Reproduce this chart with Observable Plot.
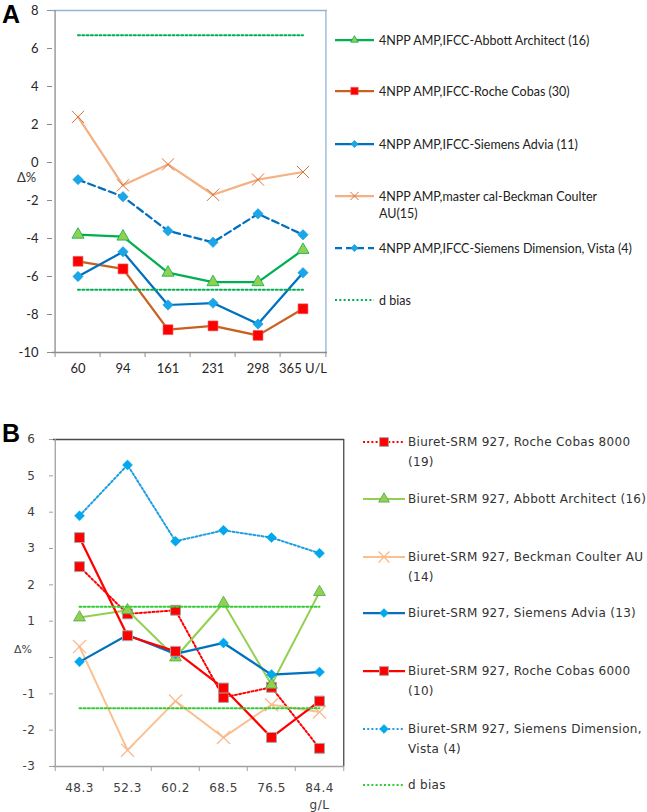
<!DOCTYPE html>
<html>
<head>
<meta charset="utf-8">
<script src="https://cdn.jsdelivr.net/npm/d3@7"></script>
<script src="https://cdn.jsdelivr.net/npm/@observablehq/plot@0.6"></script>
<style>
  html, body { margin: 0; padding: 0; background: #fff; }
  #wrap { position: relative; width: 647px; height: 812px; overflow: hidden; background: #fff; }
  .plabel { position: absolute; font-family: "Liberation Sans", Arial, sans-serif; font-weight: bold; font-size: 25px; line-height: 28px; color: #000; }
  .ylab { position: absolute; line-height: 1; color: #333; }
  .legA { position: absolute; font-family: Lato, "Open Sans", sans-serif; font-size: 12.5px; line-height: 17px; color: #222; white-space: nowrap; }
  .legB { position: absolute; font-family: "DejaVu Sans", Verdana, sans-serif; font-size: 12px; line-height: 20px; color: #333; white-space: nowrap; letter-spacing: 0.3px; }
  .legA svg, .legB svg { position: absolute; overflow: visible; }
</style>
</head>
<body>
<div id="wrap"></div>
<script>
// ---------------- DATA ----------------
// Panel A: alkaline phosphatase (U/L)
const catsA = ["60", "94", "161", "231", "298", "365"];
const abbottA    = [-3.8, -3.9, -5.8, -6.3, -6.3, -4.6];
const rocheA     = [-5.2, -5.6, -8.8, -8.6, -9.1, -7.7];
const adviaA     = [-6.0, -4.7, -7.5, -7.4, -8.5, -5.8];
const beckmanA   = [2.4, -1.2, -0.1, -1.7, -0.9, -0.5];
const dimensionA = [-0.9, -1.8, -3.6, -4.2, -2.7, -3.8];
const dBiasA = [6.7, -6.7];
const yTicksA = [-10, -8, -6, -4, -2, 0, 2, 4, 6, 8];
const namesA = [
  "4NPP AMP,IFCC-Abbott Architect (16)",
  "4NPP AMP,IFCC-Roche Cobas (30)",
  "4NPP AMP,IFCC-Siemens Advia (11)",
  "4NPP AMP,master cal-Beckman Coulter\nAU(15)",
  "4NPP AMP,IFCC-Siemens Dimension, Vista (4)",
  "d bias"
];
const unitA = "U/L";

// Panel B: total protein (g/L)
const catsB = ["48.3", "52.3", "60.2", "68.5", "76.5", "84.4"];
const roche8000B = [2.5, 1.2, 1.3, -1.1, -0.82, -2.5];
const abbottB    = [1.1, 1.3, 0.0, 1.5, -0.75, 1.8];
const beckmanB   = [0.3, -2.55, -1.2, -2.2, -1.3, -1.5];
const adviaB     = [-0.12, 0.62, 0.1, 0.4, -0.47, -0.4];
const roche6000B = [3.3, 0.6, 0.17, -0.84, -2.2, -1.2];
const dimensionB = [3.9, 5.3, 3.2, 3.5, 3.3, 2.87];
const dBiasB = [1.4, -1.4];
const yTicksB = [-3, -2, -1, 0, 1, 2, 3, 4, 5, 6];
const namesB = [
  "Biuret-SRM 927, Roche Cobas 8000\n(19)",
  "Biuret-SRM 927, Abbott Architect (16)",
  "Biuret-SRM 927, Beckman Coulter AU\n(14)",
  "Biuret-SRM 927, Siemens Advia (13)",
  "Biuret-SRM 927, Roche Cobas 6000\n(10)",
  "Biuret-SRM 927, Siemens Dimension,\nVista (4)",
  "d bias"
];
const unitB = "g/L";
const yTitle = "Δ%";

// ---------------- STYLES ----------------
const stylesA = [
  {line: "#00B050", w: 2.25, dash: null, sym: "triangle", r: 4.5, fill: "#92D050", stroke: "#00B050", sw: 0.8, lr: 2.8},
  {line: "#C8611F", w: 2.25, dash: null, sym: "square", r: 5.6, fill: "#FF0000", stroke: "#F06060", sw: 0.6, lr: 4.2},
  {line: "#0070C0", w: 2.25, dash: null, sym: "diamond2", r: 4.7, fill: "#1AA7E8", stroke: "#1496D6", sw: 0.5, lr: 3.3},
  {line: "#F4B183", w: 2.25, dash: null, sym: "times", r: 5.6, fill: "none", stroke: "#D9733A", sw: 1, lr: 3.8},
  {line: "#0070C0", w: 2.25, dash: "7,4", sym: "diamond2", r: 4.7, fill: "#1AA7E8", stroke: "#1496D6", sw: 0.5, lr: 3.3},
  {line: "#00B050", w: 2, dash: "2,2.3", sym: null}
];
const legTopA = [40, 91, 144, 196, 248, 300];

const stylesB = [
  {line: "#FF0000", w: 2, dash: "2,2.2", sym: "square", r: 5.6, fill: "#FF0000", stroke: "#A8A8A8", sw: 1, lr: 5},
  {line: "#92D050", w: 2, dash: null, sym: "triangle", r: 4.4, fill: "#92D050", stroke: "#4FA84F", sw: 0.8, lr: 4},
  {line: "#FAC090", w: 2, dash: null, sym: "times", r: 6, fill: "none", stroke: "#FAB98A", sw: 1.3, lr: 5},
  {line: "#0070C0", w: 2.25, dash: null, sym: "diamond2", r: 4.5, fill: "#00A8EE", stroke: "#00A0E6", sw: 0.5, lr: 4},
  {line: "#FF0000", w: 2.25, dash: null, sym: "square", r: 5.6, fill: "#FF0000", stroke: "#A8A8A8", sw: 1, lr: 5},
  {line: "#1E9EE2", w: 2, dash: "2,2.2", sym: "diamond2", r: 4.5, fill: "#00A8EE", stroke: "#00A0E6", sw: 0.5, lr: 4},
  {line: "#33CC33", w: 2, dash: "2,2.2", sym: null}
];
const legTopB = [441.7, 499, 557, 613, 670.7, 729, 785];

// ---------------- HELPERS ----------------
const wrap = document.getElementById("wrap");
const pts = (cats, vals) => cats.map((c, i) => ({cat: c, v: vals[i]}));
const symMap = {triangle: d3.symbolTriangle, square: d3.symbolSquare, diamond2: d3.symbolDiamond2, times: d3.symbolTimes};

function seriesMarks(cats, vals, s) {
  const data = pts(cats, vals);
  const marks = [Plot.line(data, {x: "cat", y: "v", stroke: s.line, strokeWidth: s.w, strokeDasharray: s.dash || undefined, strokeLinejoin: "round"})];
  if (s.sym) {
    marks.push(Plot.dot(data, {x: "cat", y: "v", symbol: s.sym, r: s.r, fill: s.fill, stroke: s.stroke, strokeWidth: s.sw}));
  }
  return marks;
}

function panel({cats, series, styles, dBias, yTicks, yDomain, width, height, margins, frameColor, axisColor, font, fontSize, tickFmt, tickLen, yTickSize, yTickPad, xTickPad, lineHeight, labelColor, letterSpacing}) {
  const [mt, mr, mb, ml] = margins;
  const bw = (width - ml - mr) / cats.length;
  const last = cats[cats.length - 1];
  const tickDy = (yDomain[1] - yDomain[0]) * tickLen / (height - mt - mb);
  const marks = [
    Plot.ruleY([yDomain[1]], {stroke: frameColor, strokeWidth: 1.3}),
    Plot.ruleX([last], {dx: bw / 2, stroke: frameColor, strokeWidth: 1.3}),
    Plot.ruleX([cats[0]], {dx: -bw / 2, stroke: axisColor, strokeWidth: 1.3}),
    Plot.ruleY([yDomain[0]], {stroke: axisColor, strokeWidth: 1.3}),
    Plot.ruleX(cats, {dx: -bw / 2, y1: yDomain[0], y2: yDomain[0] - tickDy, stroke: axisColor}),
    Plot.ruleX([last], {dx: bw / 2, y1: yDomain[0], y2: yDomain[0] - tickDy, stroke: axisColor}),
    Plot.axisY({ticks: yTicks, tickSize: yTickSize, tickPadding: yTickPad, stroke: axisColor, fill: labelColor, label: null,
      tickFormat: tickFmt.y}),
    Plot.axisX({tickSize: 0, tickPadding: xTickPad, fill: labelColor, label: null, tickFormat: tickFmt.x, lineHeight})
  ];
  series.forEach((vals, i) => marks.push(...seriesMarks(cats, vals, styles[i])));
  const sb = styles[styles.length - 1];
  dBias.forEach(v => marks.push(Plot.line(pts(cats, cats.map(() => v)), {x: "cat", y: "v", stroke: sb.line, strokeWidth: sb.w, strokeDasharray: sb.dash})));
  return Plot.plot({
    width, height, marginTop: mt, marginRight: mr, marginBottom: mb, marginLeft: ml,
    x: {type: "band", domain: cats, padding: 0},
    y: {domain: yDomain},
    style: {fontFamily: font, fontSize: fontSize, background: "transparent", overflow: "visible", letterSpacing: letterSpacing || "normal"},
    marks
  });
}

function place(el, left, top) {
  el.style.position = "absolute"; el.style.left = left + "px"; el.style.top = top + "px";
  wrap.appendChild(el);
}

function legend(names, styles, tops, cls, lineX0, lineX1, textX, lh) {
  names.forEach((name, i) => {
    const s = styles[i];
    const row = document.createElement("div");
    row.className = cls;
    row.style.left = textX + "px";
    row.style.top = (tops[i] - lh / 2) + "px";
    name.split("\n").forEach((ln, k) => {
      if (k) row.appendChild(document.createElement("br"));
      row.appendChild(document.createTextNode(ln));
    });
    wrap.appendChild(row);
    const svg = d3.create("svg").attr("width", lineX1 - lineX0 + 4).attr("height", 16)
      .style("left", (lineX0 - textX) + "px").style("top", (lh / 2 - 8) + "px");
    const g = svg.append("g").attr("transform", "translate(0,8)");
    g.append("line").attr("x1", 0).attr("x2", lineX1 - lineX0).attr("y1", 0).attr("y2", 0)
      .attr("stroke", s.line).attr("stroke-width", s.w).attr("stroke-dasharray", s.dash);
    if (s.sym) {
      g.append("path").attr("transform", `translate(${(lineX1 - lineX0) / 2},0)`)
        .attr("d", d3.symbol(symMap[s.sym], Math.PI * s.lr * s.lr)())
        .attr("fill", s.fill).attr("stroke", s.stroke).attr("stroke-width", s.sw);
    }
    row.appendChild(svg.node());
  });
}

// ---------------- PANEL A ----------------
const plotA = panel({
  cats: catsA, series: [abbottA, rocheA, adviaA, beckmanA, dimensionA], styles: stylesA, dBias: dBiasA,
  yTicks: yTicksA, yDomain: [-10, 8], width: 330, height: 385, margins: [10, 3, 33, 52],
  frameColor: "#95B3D7", axisColor: "#8C8C8C", font: "Lato, 'Open Sans', sans-serif", fontSize: "13px",
  tickFmt: {y: d => d, x: d => d === catsA[catsA.length - 1] ? d + " " + unitA : d},
  tickLen: 5, yTickSize: 5, yTickPad: 9, xTickPad: 11, lineHeight: 1, labelColor: "#262626"
});
place(plotA, 0, 0);

// ---------------- PANEL B ----------------
const plotB = panel({
  cats: catsB, series: [roche8000B, abbottB, beckmanB, adviaB, roche6000B, dimensionB], styles: stylesB, dBias: dBiasB,
  yTicks: yTicksB, yDomain: [-3, 6], width: 347, height: 383, margins: [10, 3, 46, 53],
  frameColor: "#4A4A4A", axisColor: "#A0A0A0", font: "'DejaVu Sans', Verdana, sans-serif", fontSize: "12px",
  tickFmt: {y: d => d === 0 ? "" : d, x: d => d === catsB[catsB.length - 1] ? d + "\n" + unitB : d},
  tickLen: 5, yTickSize: 4, yTickPad: 14, xTickPad: 13, lineHeight: 1.45, labelColor: "#404040", letterSpacing: "0.5px"
});
place(plotB, 0, 429);

// Panel letters and y titles
const la = document.createElement("div"); la.className = "plabel"; la.textContent = "A"; place(la, 2, 0);
const lb = document.createElement("div"); lb.className = "plabel"; lb.textContent = "B"; place(lb, 2, 419);
const ta = document.createElement("div"); ta.className = "ylab"; ta.textContent = yTitle;
ta.style.fontFamily = "Lato, sans-serif"; ta.style.fontSize = "13px"; place(ta, 17, 171);
const tb = document.createElement("div"); tb.className = "ylab"; tb.textContent = yTitle;
tb.style.fontFamily = "'DejaVu Sans', sans-serif"; tb.style.fontSize = "11px"; tb.style.color = "#404040"; place(tb, 14, 644);

// Legends
legend(namesA, stylesA, legTopA, "legA", 335, 374, 379, 17);
legend(namesB, stylesB, legTopB, "legB", 363, 405, 408, 20);
</script>
</body>
</html>
